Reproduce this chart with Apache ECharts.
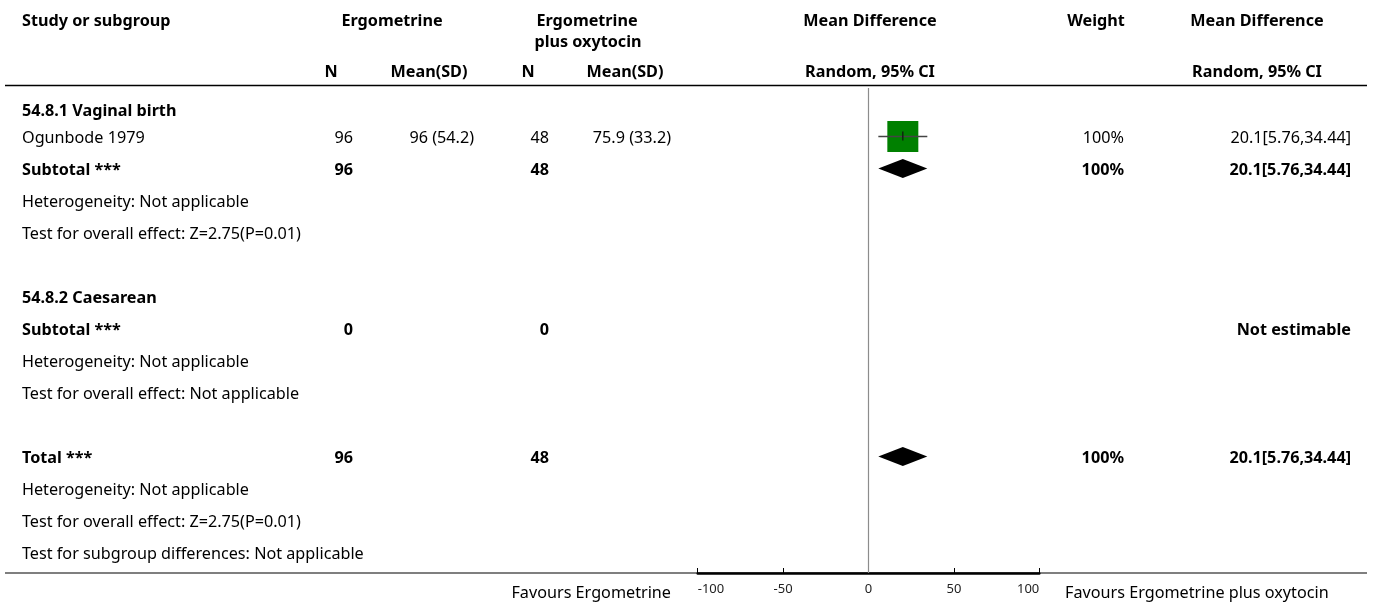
<!DOCTYPE html>
<html>
<head>
<meta charset="utf-8">
<script src="https://cdn.jsdelivr.net/npm/echarts@6/dist/echarts.min.js"></script>
<style>
html,body{margin:0;padding:0;background:#fff;}
#chart{width:1375px;height:603px;}
</style>
</head>
<body>
<div id="chart"></div>
<script>
// ---------------- DATA ----------------
const rowLabels = [
  '54.8.1 Vaginal birth',
  'Ogunbode 1979',
  'Subtotal ***',
  'Heterogeneity: Not applicable',
  'Test for overall effect: Z=2.75(P=0.01)',
  '',
  '54.8.2 Caesarean',
  'Subtotal ***',
  'Heterogeneity: Not applicable',
  'Test for overall effect: Not applicable',
  '',
  'Total ***',
  'Heterogeneity: Not applicable',
  'Test for overall effect: Z=2.75(P=0.01)',
  'Test for subgroup differences: Not applicable'
];
const rowBold   = [1,0,1,0,0,0,1,1,0,0,0,1,0,0,0];
const ergoN     = ['', '96', '96', '', '', '', '', '0', '', '', '', '96', '', '', ''];
const ergoMean  = ['', '96 (54.2)', '', '', '', '', '', '', '', '', '', '', '', '', ''];
const oxyN      = ['', '48', '48', '', '', '', '', '0', '', '', '', '48', '', '', ''];
const oxyMean   = ['', '75.9 (33.2)', '', '', '', '', '', '', '', '', '', '', '', '', ''];
const weightTxt = ['', '100%', '100%', '', '', '', '', '', '', '', '', '100%', '', '', ''];
const mdTxt     = ['', '20.1[5.76,34.44]', '20.1[5.76,34.44]', '', '', '', '', 'Not estimable', '', '', '', '20.1[5.76,34.44]', '', '', ''];

// study-level estimates (squares)
const studyRow    = [1];
const studyEst    = [20.1];
const studyLo     = [5.76];
const studyHi     = [34.44];
const studyWeight = [100];

// pooled estimates (diamonds)
const pooledRow = [2, 11];
const pooledEst = [20.1, 20.1];
const pooledLo  = [5.76, 5.76];
const pooledHi  = [34.44, 34.44];

const xTicks = [-100, -50, 0, 50, 100];
const leftFavour  = 'Favours Ergometrine';
const rightFavour = 'Favours Ergometrine plus oxytocin';

// ---------------- LAYOUT ----------------
const FONT = '"Noto Sans"';
const FS = 16.2;
const TY = 1.5; // text vertical nudge
const ROW0 = 104.5, ROWH = 32;
const GRID_TOP = 88, GRID_BOT = 573;
const PLOT_L = 697.7, PLOT_R = 1039.3;
const W = 1375, H = 603;
const yMin = (GRID_TOP - ROW0) / ROWH;
const yMax = (GRID_BOT - ROW0) / ROWH;

const col = {
  label: 22,
  ergoN: 353, ergoMean: 474, oxyN: 549, oxyMean: 671,
  weight: 1124, md: 1351
};

const chart = echarts.init(document.getElementById('chart'), null, {renderer: 'canvas'});

function txt(x, y, s, align, bold) {
  return {
    type: 'text', x: x, y: y + TY,
    style: {text: s, x: 0, y: 0, align: align, verticalAlign: 'middle',
      font: (bold ? 'bold ' : '') + FS + 'px ' + FONT, fill: '#000'}
  };
}
function head(x, y, s, align) {
  return {type: 'text', x: x, y: y + TY, style: {text: s, align: align, verticalAlign: 'middle', font: 'bold ' + FS + 'px ' + FONT, fill: '#000'}};
}

const tableData = rowLabels.map((_, i) => [0, i]);

const option = {
  animation: false,
  backgroundColor: '#fff',
  grid: {left: PLOT_L, right: W - PLOT_R, top: GRID_TOP, bottom: H - GRID_BOT, containLabel: false},
  xAxis: {
    type: 'value', min: xTicks[0], max: xTicks[xTicks.length - 1], interval: 50,
    position: 'bottom',
    axisLine: {show: true, onZero: false, lineStyle: {color: '#000', width: 2.5}},
    axisTick: {show: true, inside: true, length: 5, lineStyle: {color: '#000', width: 1}},
    axisLabel: {color: '#222', fontSize: 13, fontFamily: 'Noto Sans', margin: 10,
      alignMinLabel: 'left', alignMaxLabel: 'right'},
    splitLine: {show: false}
  },
  yAxis: {
    type: 'value', inverse: true, min: yMin, max: yMax, show: false
  },
  graphic: [
    {type: 'line', shape: {x1: 5, y1: 85.5, x2: 1367, y2: 85.5}, style: {stroke: '#000', lineWidth: 1.5}, z: 1},
    {type: 'line', shape: {x1: 5, y1: GRID_BOT, x2: 1367, y2: GRID_BOT}, style: {stroke: '#000', lineWidth: 1.2}, z: 1},
    head(22, 20, 'Study or subgroup', 'left'),
    head(392, 20, 'Ergometrine', 'center'),
    head(587, 20, 'Ergometrine', 'center'),
    head(588, 41, 'plus oxytocin', 'center'),
    head(870, 20, 'Mean Difference', 'center'),
    head(1096, 20, 'Weight', 'center'),
    head(1257, 20, 'Mean Difference', 'center'),
    head(331, 71, 'N', 'center'),
    head(429, 71, 'Mean(SD)', 'center'),
    head(528, 71, 'N', 'center'),
    head(625, 71, 'Mean(SD)', 'center'),
    head(870, 71, 'Random, 95% CI', 'center'),
    head(1257, 71, 'Random, 95% CI', 'center'),
    {type: 'text', x: 671, y: 592 + TY, style: {text: leftFavour, align: 'right', verticalAlign: 'middle', font: FS + 'px ' + FONT, fill: '#000'}},
    {type: 'text', x: 1065, y: 592 + TY, style: {text: rightFavour, align: 'left', verticalAlign: 'middle', font: FS + 'px ' + FONT, fill: '#000'}}
  ],
  series: [
    {
      type: 'custom', clip: false, silent: true, z: 5,
      data: tableData,
      renderItem: function (params, api) {
        const i = api.value(1);
        let y = api.coord([0, i])[1];
        if (i === 0) y += 5.5;
        const b = !!rowBold[i];
        const children = [];
        if (rowLabels[i]) children.push(txt(col.label, y, rowLabels[i], 'left', b));
        if (ergoN[i]) children.push(txt(col.ergoN, y, ergoN[i], 'right', b));
        if (ergoMean[i]) children.push(txt(col.ergoMean, y, ergoMean[i], 'right', b));
        if (oxyN[i]) children.push(txt(col.oxyN, y, oxyN[i], 'right', b));
        if (oxyMean[i]) children.push(txt(col.oxyMean, y, oxyMean[i], 'right', b));
        if (weightTxt[i]) children.push(txt(col.weight, y, weightTxt[i], 'right', b));
        if (mdTxt[i]) children.push(txt(col.md, y, mdTxt[i], 'right', b));
        return {type: 'group', children: children};
      },
      markLine: {
        silent: true, symbol: 'none', label: {show: false},
        lineStyle: {color: '#8c8c8c', width: 1.2, type: 'solid'},
        data: [{xAxis: 0}]
      }
    },
    {
      type: 'custom', clip: false, z: 10,
      data: studyRow.map((r, k) => [studyEst[k], r, studyLo[k], studyHi[k], studyWeight[k]]),
      renderItem: function (params, api) {
        const c = api.coord([api.value(0), api.value(1)]);
        const lo = api.coord([api.value(2), api.value(1)]);
        const hi = api.coord([api.value(3), api.value(1)]);
        const s = 31 * Math.sqrt(api.value(4) / 100);
        return {type: 'group', children: [
          {type: 'rect', shape: {x: c[0] - s / 2, y: c[1] - s / 2, width: s, height: s}, style: {fill: '#008000'}},
          {type: 'line', shape: {x1: lo[0], y1: c[1], x2: hi[0], y2: c[1]}, style: {stroke: '#444', lineWidth: 1.5}},
          {type: 'line', shape: {x1: c[0], y1: c[1] - 5, x2: c[0], y2: c[1] + 4}, style: {stroke: '#111', lineWidth: 1.2}}
        ]};
      }
    },
    {
      type: 'custom', clip: false, z: 10,
      data: pooledRow.map((r, k) => [pooledEst[k], r, pooledLo[k], pooledHi[k]]),
      renderItem: function (params, api) {
        const c = api.coord([api.value(0), api.value(1)]);
        const lo = api.coord([api.value(2), api.value(1)]);
        const hi = api.coord([api.value(3), api.value(1)]);
        const h = 9.5;
        return {type: 'polygon', shape: {points: [[lo[0], c[1]], [c[0], c[1] - h], [hi[0], c[1]], [c[0], c[1] + h]]}, style: {fill: '#000'}};
      }
    }
  ]
};
chart.setOption(option);
</script>
</body>
</html>
